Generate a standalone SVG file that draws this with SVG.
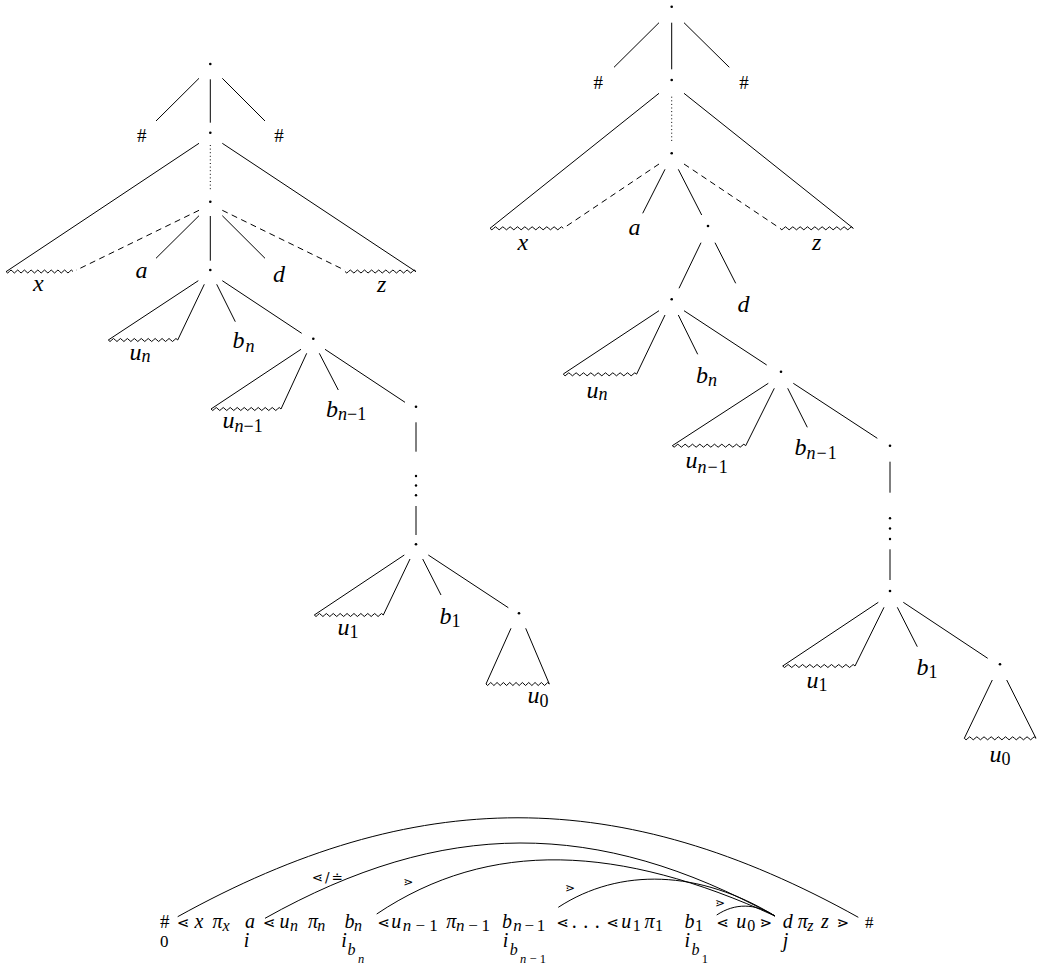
<svg xmlns="http://www.w3.org/2000/svg" width="1041" height="969" viewBox="0 0 1041 969">
<style>
.e{stroke:#000;stroke-width:1;fill:none}
.da{stroke-dasharray:6 4.5}
.dt{stroke-dasharray:1 2.6}
.w{stroke:#000;stroke-width:1;fill:none}
.n{fill:#000}
.t{font-family:'Liberation Serif',serif;font-style:italic;font-size:24px;fill:#000}
.s{font-size:18px}
.h{font-style:normal;font-size:19px}
.f{font-size:20px}
.fs{font-size:16px}
.fss{font-size:12.5px}
.up{font-style:normal}
.r{font-family:'DejaVu Sans',sans-serif;font-style:normal;font-size:15px;fill:#000}
.rs{font-size:12px}
</style>
<defs>
<path id="wave" d="M0,0 q1.8,3 3.6,0 t3.6,0 3.6,0 3.6,0 3.6,0 3.6,0 3.6,0 3.6,0 3.6,0 3.6,0 3.6,0 3.6,0 3.6,0 3.6,0 3.6,0 3.6,0 3.6,0 3.6,0 3.6,0 3.6,0" class="w" vector-effect="non-scaling-stroke"/>
</defs>
<rect width="1041" height="969" fill="#fff"/>

<!-- LEFT TREE -->
<g id="left-connectors">
<path class="e" d="M199,78.3 L156,121 M210.3,79.3 L210.3,122.7 M222.3,78.3 L265,121
M199,143.3 L6,271.7 M222.3,143.3 L416,271.7
M199,215.7 L156,258.3 M210.3,216 L210.3,260.7 M222.3,215.7 L265,258.3
M198.3,280.7 L108.3,340 M204.3,284.3 L177.7,340 M216.7,284.3 L235.3,321.7 M222.3,280.7 L301.7,333.3
M301,349.3 L211,409 M306.7,353.3 L281,409 M319.3,353.3 L338.3,390 M325,349.3 L405,402.3
M416,422.3 L416,451.7 M416,506 L416,535
M404.3,555 L314.3,615 M410,559 L383.3,615 M422.7,559 L441,595 M428.3,555 L508.3,607.7
M511,628.3 L486,684 M525.7,628.3 L549.3,684"/>
<path class="e dt" d="M210.3,145 L210.3,189.3"/>
<path class="e da" d="M199,210.3 L76,270.3 M222.3,210.3 L345,270.3"/>
<use href="#wave" transform="translate(6,271.5) scale(0.9306,1)"/>
<use href="#wave" transform="translate(345,271.5) scale(0.986,1)"/>
<use href="#wave" transform="translate(108.3,340) scale(0.964,1)"/>
<use href="#wave" transform="translate(211,409) scale(0.972,1)"/>
<use href="#wave" transform="translate(314.3,615) scale(0.958,1)"/>
<use href="#wave" transform="translate(486,684) scale(0.879,1)"/>
<circle class="n" cx="416" cy="476" r="1.2"/>
<circle class="n" cx="416" cy="485.5" r="1.2"/>
<circle class="n" cx="416" cy="495.3" r="1.2"/>
</g>
<g font-family="Liberation Serif, serif">
<g id="lt-root"><circle class="n" cx="210.3" cy="64" r="1.3"/></g>
<g id="lt-hash-l"><text class="t h" x="141.7" y="141.5" text-anchor="middle">#</text></g>
<g id="lt-hash-r"><text class="t h" x="279" y="141.5" text-anchor="middle">#</text></g>
<g id="lt-n1"><circle class="n" cx="210.3" cy="132.7" r="1.3"/></g>
<g id="lt-n2"><circle class="n" cx="210.3" cy="201.7" r="1.3"/></g>
<g id="lt-x"><text class="t" x="33" y="291">x</text></g>
<g id="lt-a"><text class="t" x="135.5" y="278.3">a</text></g>
<g id="lt-d"><text class="t" x="273" y="281.5">d</text></g>
<g id="lt-z"><text class="t" x="377" y="291.5">z</text></g>
<g id="lt-n3"><circle class="n" cx="210.3" cy="270" r="1.3"/></g>
<g id="lt-un"><text class="t" x="129.5" y="360">u<tspan class="s" dy="2">n</tspan></text></g>
<g id="lt-bn"><text class="t" x="232.5" y="348.3">b<tspan class="s" dx="1" dy="4">n</tspan></text></g>
<g id="lt-n4"><circle class="n" cx="313.3" cy="338.7" r="1.3"/></g>
<g id="lt-un1"><text class="t" x="222.5" y="428">u<tspan class="s" dy="3.5">n</tspan><tspan class="s up">−</tspan><tspan class="s up">1</tspan></text></g>
<g id="lt-bn1"><text class="t" x="326" y="416.7">b<tspan class="s" dy="3.3">n</tspan><tspan class="s up">−</tspan><tspan class="s up">1</tspan></text></g>
<g id="lt-n5"><circle class="n" cx="416" cy="406.7" r="1.3"/></g>
<g id="lt-n6"><circle class="n" cx="416" cy="544.3" r="1.3"/></g>
<g id="lt-u1"><text class="t" x="337.5" y="635">u<tspan class="s up" dy="3.3">1</tspan></text></g>
<g id="lt-b1"><text class="t" x="439.5" y="623.5">b<tspan class="s up" dy="3.8">1</tspan></text></g>
<g id="lt-n7"><circle class="n" cx="519" cy="613.3" r="1.3"/></g>
<g id="lt-u0"><text class="t" x="527.5" y="703.3">u<tspan class="s up" dy="3.4">0</tspan></text></g>
</g>

<!-- RIGHT TREE -->
<g id="right-connectors">
<path class="e" d="M659,22.7 L614,67.3 M671.7,22.7 L671.7,69.3 M684,22.7 L729.3,67.3
M659,93.3 L490,228.3 M684,93.3 L853.3,228.3
M665,169.3 L642.7,213.3 M678.3,169.3 L701.7,215
M701,242.7 L679,288.3 M715,242.7 L735.7,283.3
M659,310.7 L563.3,374 M665,315 L636.7,374 M678.3,315 L697.7,354.3 M684,310.7 L766.7,365
M768.3,383.3 L672.3,445.7 M774.3,388.3 L745.7,445.7 M787.7,388.3 L807.3,427.3 M793.3,383.3 L877.3,438.3
M890,461.7 L890,492.7 M890,549.3 L890,580
M878.3,602.3 L782.7,666 M884,607.3 L855,666 M897.3,607.3 L917.3,646.7 M903.3,602.3 L987.7,658.3
M992.3,680 L964.3,738.3 M1006.7,680 L1036,738.3"/>
<path class="e dt" d="M671.7,96.7 L671.7,143.3"/>
<path class="e da" d="M659,164 L563.3,228.3 M684,164 L780,228.3"/>
<use href="#wave" transform="translate(490,228.3) scale(1.018,1)"/>
<use href="#wave" transform="translate(780,228.3) scale(1.018,1)"/>
<use href="#wave" transform="translate(563.3,374.3) scale(1.019,1)"/>
<use href="#wave" transform="translate(672.3,445.7) scale(1.019,1)"/>
<use href="#wave" transform="translate(782.7,666) scale(1.004,1)"/>
<use href="#wave" transform="translate(964.3,738.3) scale(0.996,1)"/>
<circle class="n" cx="890" cy="518.3" r="1.2"/>
<circle class="n" cx="890" cy="528.5" r="1.2"/>
<circle class="n" cx="890" cy="539" r="1.2"/>
</g>
<g font-family="Liberation Serif, serif">
<g id="rt-root"><circle class="n" cx="671.7" cy="6.7" r="1.3"/></g>
<g id="rt-hash-l"><text class="t h" x="598.3" y="89" text-anchor="middle">#</text></g>
<g id="rt-hash-r"><text class="t h" x="744" y="89" text-anchor="middle">#</text></g>
<g id="rt-n1"><circle class="n" cx="671.7" cy="80" r="1.3"/></g>
<g id="rt-n2"><circle class="n" cx="671.7" cy="153.3" r="1.3"/></g>
<g id="rt-x"><text class="t" x="517.5" y="250">x</text></g>
<g id="rt-a"><text class="t" x="628.5" y="235">a</text></g>
<g id="rt-z"><text class="t" x="812" y="250">z</text></g>
<g id="rt-n3"><circle class="n" cx="708" cy="226" r="1.3"/></g>
<g id="rt-d"><text class="t" x="737.5" y="311.7">d</text></g>
<g id="rt-n4"><circle class="n" cx="671.7" cy="299.3" r="1.3"/></g>
<g id="rt-un"><text class="t" x="586.5" y="398">u<tspan class="s" dy="2">n</tspan></text></g>
<g id="rt-bn"><text class="t" x="696" y="383">b<tspan class="s" dy="2.5">n</tspan></text></g>
<g id="rt-n5"><circle class="n" cx="781" cy="371.7" r="1.3"/></g>
<g id="rt-un1"><text class="t" x="685.5" y="468">u<tspan class="s" dy="4.5">n</tspan><tspan class="s up" dx="1">−</tspan><tspan class="s up" dx="1">1</tspan></text></g>
<g id="rt-bn1"><text class="t" x="794.5" y="455">b<tspan class="s" dy="4">n</tspan><tspan class="s up" dx="1">−</tspan><tspan class="s up" dx="1">1</tspan></text></g>
<g id="rt-n6"><circle class="n" cx="890" cy="445.7" r="1.3"/></g>
<g id="rt-n7"><circle class="n" cx="890" cy="591" r="1.3"/></g>
<g id="rt-u1"><text class="t" x="806.5" y="688">u<tspan class="s up" dy="2.7">1</tspan></text></g>
<g id="rt-b1"><text class="t" x="916.5" y="675">b<tspan class="s up" dy="2.7">1</tspan></text></g>
<g id="rt-n8"><circle class="n" cx="1000" cy="664.3" r="1.3"/></g>
<g id="rt-u0"><text class="t" x="989.5" y="761.7">u<tspan class="s up" dy="3.3">0</tspan></text></g>
</g>

<!-- BOTTOM STRING -->
<g id="arcs">
<path class="e" d="M177.7,916.7 C415.9,784.7 620.1,784.7 858.3,917.3"/>
<path class="e" d="M265,918.3 C443.5,818.3 596.5,818.3 775,916"/>
<path class="e" d="M376.7,914 C490,838 620,845 775,916"/>
<path class="e" d="M558.3,907.3 C620,867 700,870 775,916"/>
<path class="e" d="M716.7,915 C735,903 755,903 775,916"/>
</g>
<g id="arc-labels">
<text class="r" x="311.7" y="882" style="font-size:13.5px" textLength="31" lengthAdjust="spacing">⋖/≐</text>
<text class="r rs" x="403.3" y="886">⋗</text>
<text class="r rs" x="565" y="891.7">⋗</text>
<text class="r rs" x="715" y="906.7">⋗</text>
</g>
<g id="string" font-family="Liberation Serif, serif">
<text class="t h" x="160" y="928">#</text>
<text class="r" x="177" y="928">⋖</text>
<text class="t f" x="194.5" y="928">x</text>
<text class="t f" x="212.5" y="928">π</text><text class="t fs" x="222.5" y="931">x</text>
<text class="t f" x="245" y="928">a</text>
<text class="r" x="263" y="928">⋖</text>
<text class="t f" x="279.5" y="928">u</text><text class="t fs" x="290" y="931">n</text>
<text class="t f" x="308" y="928">π</text><text class="t fs" x="317.3" y="931">n</text>
<text class="t f" x="344.5" y="928">b</text><text class="t fs" x="354" y="931">n</text>
<text class="r" x="377.5" y="928">⋖</text>
<text class="t f" x="391.2" y="928">u</text><text class="t fs" x="402.7" y="931" style="font-size:17px" textLength="35" lengthAdjust="spacing">n<tspan class="up">−</tspan><tspan class="up">1</tspan></text>
<text class="t f" x="446.2" y="928">π</text><text class="t fs" x="456" y="931" style="font-size:17px" textLength="34" lengthAdjust="spacing">n<tspan class="up">−</tspan><tspan class="up">1</tspan></text>
<text class="t f" x="502" y="928">b</text><text class="t fs" x="513.3" y="931" style="font-size:17px" textLength="32" lengthAdjust="spacing">n<tspan class="up">−</tspan><tspan class="up">1</tspan></text>
<text class="r" x="556.5" y="928">⋖</text>
<text class="t f up" x="571.7" y="928" textLength="28" lengthAdjust="spacing">. . .</text>
<text class="r" x="606.5" y="928">⋖</text>
<text class="t f" x="621.2" y="928">u</text><text class="t fs up" x="632.7" y="931">1</text>
<text class="t f" x="644.5" y="928">π</text><text class="t fs up" x="655" y="931">1</text>
<text class="t f" x="684.5" y="928">b</text><text class="t fs up" x="695" y="931">1</text>
<text class="r" x="716.5" y="928">⋖</text>
<text class="t f" x="736.2" y="928">u</text><text class="t fs up" x="747.3" y="931">0</text>
<text class="r" x="759.5" y="928">⋗</text>
<text class="t f" x="782.8" y="928">d</text>
<text class="t f" x="797.8" y="928">π</text><text class="t fs" x="807.3" y="931">z</text>
<text class="t f" x="821" y="928">z</text>
<text class="r" x="836.5" y="928">⋗</text>
<text class="t h" x="865" y="928" style="font-size:17px">#</text>
<text class="t f up" x="160" y="946.7" style="font-size:17px">0</text>
<text class="t f" x="243.8" y="946.7">i</text>
<text class="t f" x="341.2" y="946.7">i</text><text class="t fs" x="347.5" y="955">b</text><text class="t fss" x="358" y="963">n</text>
<text class="t f" x="502.8" y="946.7">i</text><text class="t fs" x="509.8" y="955">b</text><text class="t fss" x="520" y="963" textLength="26" lengthAdjust="spacing">n<tspan class="up">−</tspan><tspan class="up">1</tspan></text>
<text class="t f" x="684.5" y="946.7">i</text><text class="t fs" x="691.5" y="955">b</text><text class="t fss up" x="701.7" y="963">1</text>
<text class="t f" x="782.8" y="946.7">j</text>
</g>
</svg>
